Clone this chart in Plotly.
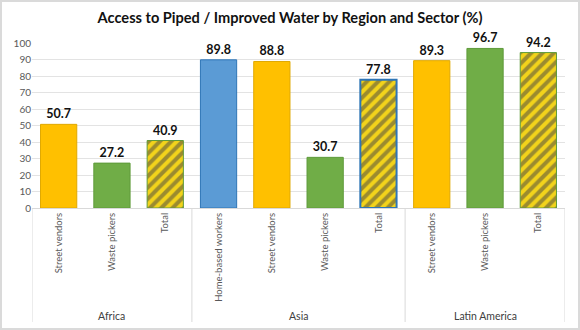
import plotly.graph_objects as go

regions = ["Africa", "Africa", "Africa", "Asia", "Asia", "Asia", "Asia",
           "Latin America", "Latin America", "Latin America"]
sectors = ["Street vendors", "Waste pickers", "Total", "Home-based workers",
           "Street vendors", "Waste pickers", "Total", "Street vendors",
           "Waste pickers", "Total"]
values = [50.7, 27.2, 40.9, 89.8, 88.8, 30.7, 77.8, 89.3, 96.7, 94.2]
y_ticks = [0, 10, 20, 30, 40, 50, 60, 70, 80, 90, 100]
region_names = ["Africa", "Asia", "Latin America"]

YELLOW = "#FFC000"
STRIPE_YELLOW = "#F2D31B"
GREEN = "#70AD47"
BLUE = "#5B9BD5"

def fill(s):
    if s == "Street vendors":
        return YELLOW
    if s == "Home-based workers":
        return BLUE
    if s == "Total":
        return STRIPE_YELLOW
    return GREEN

def edge(r, s):
    if s == "Street vendors":
        return "#E0A800"
    if s == "Home-based workers":
        return "#2E75B6"
    if s == "Total" and r == "Asia":
        return "#2E75B6"
    return "#5E9A3A"

xs = list(range(len(values)))
colors = [fill(s) for s in sectors]
edges = [edge(r, s) for r, s in zip(regions, sectors)]
edge_w = [2 if (s == "Total" and r == "Asia") else 1 for r, s in zip(regions, sectors)]
shapes_p = ["/" if s == "Total" else "" for s in sectors]

fig = go.Figure(go.Bar(
    x=xs, y=values,
    marker=dict(color=colors, line=dict(color=edges, width=edge_w),
                pattern=dict(shape=shapes_p, fgcolor=GREEN,
                             size=8, solidity=0.5, fillmode="overlay")),
    text=[f"{v:.1f}" for v in values], textposition="outside",
    textfont=dict(family="Lato", size=12.5, color="#111111", weight="bold"),
    cliponaxis=False, width=0.68,
))

# region boundaries and labels
bounds = [-0.5]
centers = []
start = 0
for i in range(1, len(regions) + 1):
    if i == len(regions) or regions[i] != regions[i - 1]:
        bounds.append(i - 0.5)
        centers.append((start + i - 1) / 2)
        start = i

shapes = [dict(type="line", xref="x", yref="paper", x0=b, x1=b,
               y0=0, y1=-114/165, line=dict(color="#D9D9D9", width=1))
          for b in bounds]
shapes.append(dict(type="rect", xref="paper", yref="paper",
                   x0=-32/533, x1=1+15/533, y0=-122/165, y1=1+43/165,
                   line=dict(color="#DADADA", width=4), layer="below"))

annotations = [dict(x=c, y=-108/165, xref="x", yref="paper", text=name,
                    showarrow=False, yanchor="middle",
                    font=dict(family="Lato", size=10.5, color="#404040"))
               for c, name in zip(centers, region_names)]

fig.update_layout(
    width=580, height=330,
    margin=dict(l=32, r=15, t=43, b=122),
    paper_bgcolor="white", plot_bgcolor="white",
    title=dict(text="<b>Access to Piped / Improved Water by Region and Sector (%)</b>",
               x=0.5, xanchor="center", y=0.945, yanchor="middle",
               font=dict(family="Lato", size=14.6, color="#111111")),
    showlegend=False,
    font=dict(family="Lato", color="#595959"),
    shapes=shapes, annotations=annotations,
)
fig.update_xaxes(range=[-0.5, len(values) - 0.5], tickvals=xs, ticktext=sectors,
                 tickangle=-90, tickfont=dict(size=9.5, color="#595959"),
                 showline=True, linecolor="#D9D9D9", ticks="", showgrid=False,
                 zeroline=False)
fig.update_yaxes(range=[0, 100], tickvals=y_ticks, showgrid=True,
                 gridcolor="#E3E3E3", zeroline=False,
                 tickfont=dict(size=10, color="#595959"), ticks="")

fig.write_html("out.html")
